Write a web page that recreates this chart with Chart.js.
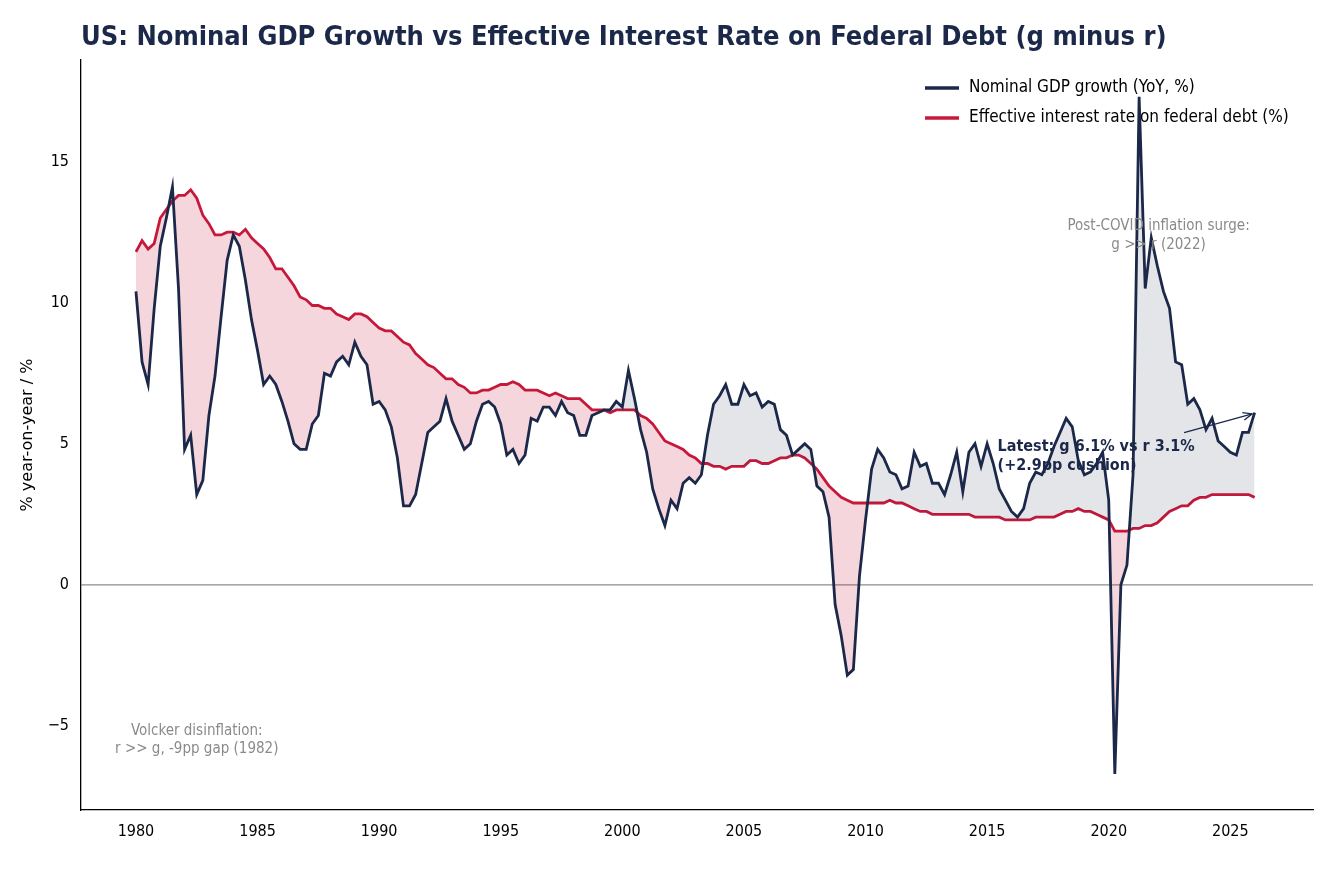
<!DOCTYPE html>
<html><head><meta charset="utf-8">
<script src="https://cdn.jsdelivr.net/npm/chart.js@4"></script>
<style>body{margin:0;background:#fff}canvas{display:block}</style></head>
<body><canvas id="c" width="1336" height="874"></canvas>
<script>
const startYear = 1980;
const gdpGrowth = [
10.4,7.9,7.1,9.8, 12.0,13.0,14.1,10.5, 4.8,5.3,3.2,3.7, 6.0,7.4,9.5,11.5,
12.4,12.0,10.8,9.4, 8.3,7.1,7.4,7.1, 6.5,5.8,5.0,4.8, 4.8,5.7,6.0,7.5,
7.4,7.9,8.1,7.8, 8.6,8.1,7.8,6.4, 6.5,6.2,5.6,4.5, 2.8,2.8,3.2,4.3,
5.4,5.6,5.8,6.6, 5.8,5.3,4.8,5.0, 5.8,6.4,6.5,6.3, 5.7,4.6,4.8,4.3,
4.6,5.9,5.8,6.3, 6.3,6.0,6.5,6.1, 6.0,5.3,5.3,6.0, 6.1,6.2,6.2,6.5,
6.3,7.6,6.6,5.5, 4.7,3.4,2.7,2.1, 3.0,2.7,3.6,3.8, 3.6,3.9,5.3,6.4,
6.7,7.1,6.4,6.4, 7.1,6.7,6.8,6.3, 6.5,6.4,5.5,5.3, 4.6,4.8,5.0,4.8,
3.5,3.3,2.4,-0.7, -1.8,-3.2,-3.0,0.3, 2.3,4.1,4.8,4.5, 4.0,3.9,3.4,3.5,
4.7,4.2,4.3,3.6, 3.6,3.2,3.9,4.7, 3.3,4.7,5.0,4.2, 5.0,4.3,3.4,3.0,
2.6,2.4,2.7,3.6, 4.0,3.9,4.3,4.9, 5.4,5.9,5.6,4.4, 3.9,4.0,4.3,4.7,
3.0,-6.7,0.0,0.7, 3.9,17.3,10.5,12.3, 11.3,10.4,9.8,7.9, 7.8,6.4,6.6,6.2,
5.5,5.9,5.1,4.9, 4.7,4.6,5.4,5.4, 6.1];
const effRate = [
11.8,12.2,11.9,12.1, 13.0,13.3,13.6,13.8, 13.8,14.0,13.7,13.1, 12.8,12.4,12.4,12.5,
12.5,12.4,12.6,12.3, 12.1,11.9,11.6,11.2, 11.2,10.9,10.6,10.2, 10.1,9.9,9.9,9.8,
9.8,9.6,9.5,9.4, 9.6,9.6,9.5,9.3, 9.1,9.0,9.0,8.8, 8.6,8.5,8.2,8.0,
7.8,7.7,7.5,7.3, 7.3,7.1,7.0,6.8, 6.8,6.9,6.9,7.0, 7.1,7.1,7.2,7.1,
6.9,6.9,6.9,6.8, 6.7,6.8,6.7,6.6, 6.6,6.6,6.4,6.2, 6.2,6.2,6.1,6.2,
6.2,6.2,6.2,6.0, 5.9,5.7,5.4,5.1, 5.0,4.9,4.8,4.6, 4.5,4.3,4.3,4.2,
4.2,4.1,4.2,4.2, 4.2,4.4,4.4,4.3, 4.3,4.4,4.5,4.5, 4.6,4.6,4.5,4.3,
4.1,3.8,3.5,3.3, 3.1,3.0,2.9,2.9, 2.9,2.9,2.9,2.9, 3.0,2.9,2.9,2.8,
2.7,2.6,2.6,2.5, 2.5,2.5,2.5,2.5, 2.5,2.5,2.4,2.4, 2.4,2.4,2.4,2.3,
2.3,2.3,2.3,2.3, 2.4,2.4,2.4,2.4, 2.5,2.6,2.6,2.7, 2.6,2.6,2.5,2.4,
2.3,1.9,1.9,1.9, 2.0,2.0,2.1,2.1, 2.2,2.4,2.6,2.7, 2.8,2.8,3.0,3.1,
3.1,3.2,3.2,3.2, 3.2,3.2,3.2,3.2, 3.1];
const seriesNames = ['Nominal GDP growth (YoY, %)','Effective interest rate on federal debt (%)'];
const xTicks = [1980,1985,1990,1995,2000,2005,2010,2015,2020,2025];
const yTicks = [-5,0,5,10,15];
const titleText = 'US: Nominal GDP Growth vs Effective Interest Rate on Federal Debt (g minus r)';
const yLabel = '% year-on-year / %';

const NAVY='#1b2849', RED='#c8193c';
const FONT='"DejaVu Sans Condensed","Liberation Sans Narrow",sans-serif';
const toPts = arr => arr.map((v,i)=>({x:startYear+i*0.25,y:v}));

const deco = {
  id:'deco',
  beforeDatasetsDraw(ch){
    const c=ch.ctx,x=ch.scales.x,y=ch.scales.y,a=ch.chartArea;
    c.save();c.strokeStyle='#8c8c8c';c.lineWidth=1.3;
    c.beginPath();c.moveTo(a.left,y.getPixelForValue(0));c.lineTo(a.right,y.getPixelForValue(0));c.stroke();c.restore();
  },
  afterDraw(ch){
    const c=ch.ctx,x=ch.scales.x,y=ch.scales.y,a=ch.chartArea;
    c.save();
    c.fillStyle=NAVY;c.font='bold 27px '+FONT;c.textBaseline='middle';c.textAlign='left';
    c.fillText(titleText,81,38);
    c.save();c.translate(28,435);c.rotate(-Math.PI/2);c.fillStyle='#000';c.font='16px "DejaVu Sans",sans-serif';c.textAlign='center';c.fillText(yLabel,0,0);c.restore();
    // legend
    c.font='17px '+FONT;c.textAlign='left';
    [[NAVY,seriesNames[0],88],[RED,seriesNames[1],118]].forEach(([col,t,yy])=>{
      c.strokeStyle=col;c.lineWidth=3.5;c.beginPath();c.moveTo(925,yy);c.lineTo(959,yy);c.stroke();
      c.fillStyle='#000';c.fillText(t,969,yy);
    });
    // annotations
    c.fillStyle='#8a8a8a';c.font='15px '+FONT;c.textAlign='center';
    c.fillText('Volcker disinflation:',x.getPixelForValue(1982.5),y.getPixelForValue(-5.18));
    c.fillText('r >> g, -9pp gap (1982)',x.getPixelForValue(1982.5),y.getPixelForValue(-5.82));
    c.fillText('Post-COVID inflation surge:',x.getPixelForValue(2022.05),y.getPixelForValue(12.7));
    c.fillText('g >> r (2022)',x.getPixelForValue(2022.05),y.getPixelForValue(12.03));
    c.fillStyle=NAVY;c.font='bold 16px '+FONT;c.textAlign='left';
    c.fillText('Latest: g 6.1% vs r 3.1%',x.getPixelForValue(2015.43),y.getPixelForValue(4.9));
    c.fillText('(+2.9pp cushion)',x.getPixelForValue(2015.43),y.getPixelForValue(4.22));
    const x0=x.getPixelForValue(2023.1),y0=y.getPixelForValue(5.39),x1=x.getPixelForValue(2025.9),y1=y.getPixelForValue(6.06);
    c.strokeStyle=NAVY;c.lineWidth=1.3;c.beginPath();c.moveTo(x0,y0);c.lineTo(x1,y1);c.stroke();
    const ang=Math.atan2(y1-y0,x1-x0);
    c.beginPath();c.moveTo(x1-10*Math.cos(ang-0.4),y1-10*Math.sin(ang-0.4));c.lineTo(x1,y1);c.lineTo(x1-10*Math.cos(ang+0.4),y1-10*Math.sin(ang+0.4));c.stroke();
    c.restore();
  }
};

new Chart(document.getElementById('c'),{
  type:'line',
  data:{datasets:[
    {label:seriesNames[0],data:toPts(gdpGrowth),borderColor:NAVY,borderWidth:2.8,pointRadius:0,tension:0,
     fill:{target:1,above:'rgba(27,40,73,0.12)',below:'rgba(200,25,60,0.18)'}},
    {label:seriesNames[1],data:toPts(effRate),borderColor:RED,borderWidth:2.8,pointRadius:0,tension:0,fill:false}
  ]},
  options:{
    responsive:false,animation:false,
    layout:{padding:{top:60,right:23,left:0,bottom:0}},
    plugins:{legend:{display:false},tooltip:{enabled:false}},
    scales:{
      x:{type:'linear',min:1977.74,max:2028.4,
        afterBuildTicks:s=>{s.ticks=xTicks.map(v=>({value:v}));},
        afterFit:s=>{s.height=64;},
        grid:{display:false,drawTicks:true,tickLength:6,tickColor:'#000'},
        border:{color:'#000',width:1.3},
        ticks:{color:'#000',font:{family:FONT,size:16},padding:6,maxRotation:0,callback:v=>String(v)}},
      y:{min:-7.98,max:18.6,
        afterBuildTicks:s=>{s.ticks=yTicks.map(v=>({value:v}));},
        afterFit:s=>{s.width=81;},
        grid:{display:false,drawTicks:true,tickLength:6,tickColor:'#000'},
        border:{color:'#000',width:1.3},
        ticks:{color:'#000',font:{family:FONT,size:16},padding:6,callback:v=>v<0?'\u2212'+Math.abs(v):String(v)}}
    }
  },
  plugins:[deco]
});
</script></body></html>
